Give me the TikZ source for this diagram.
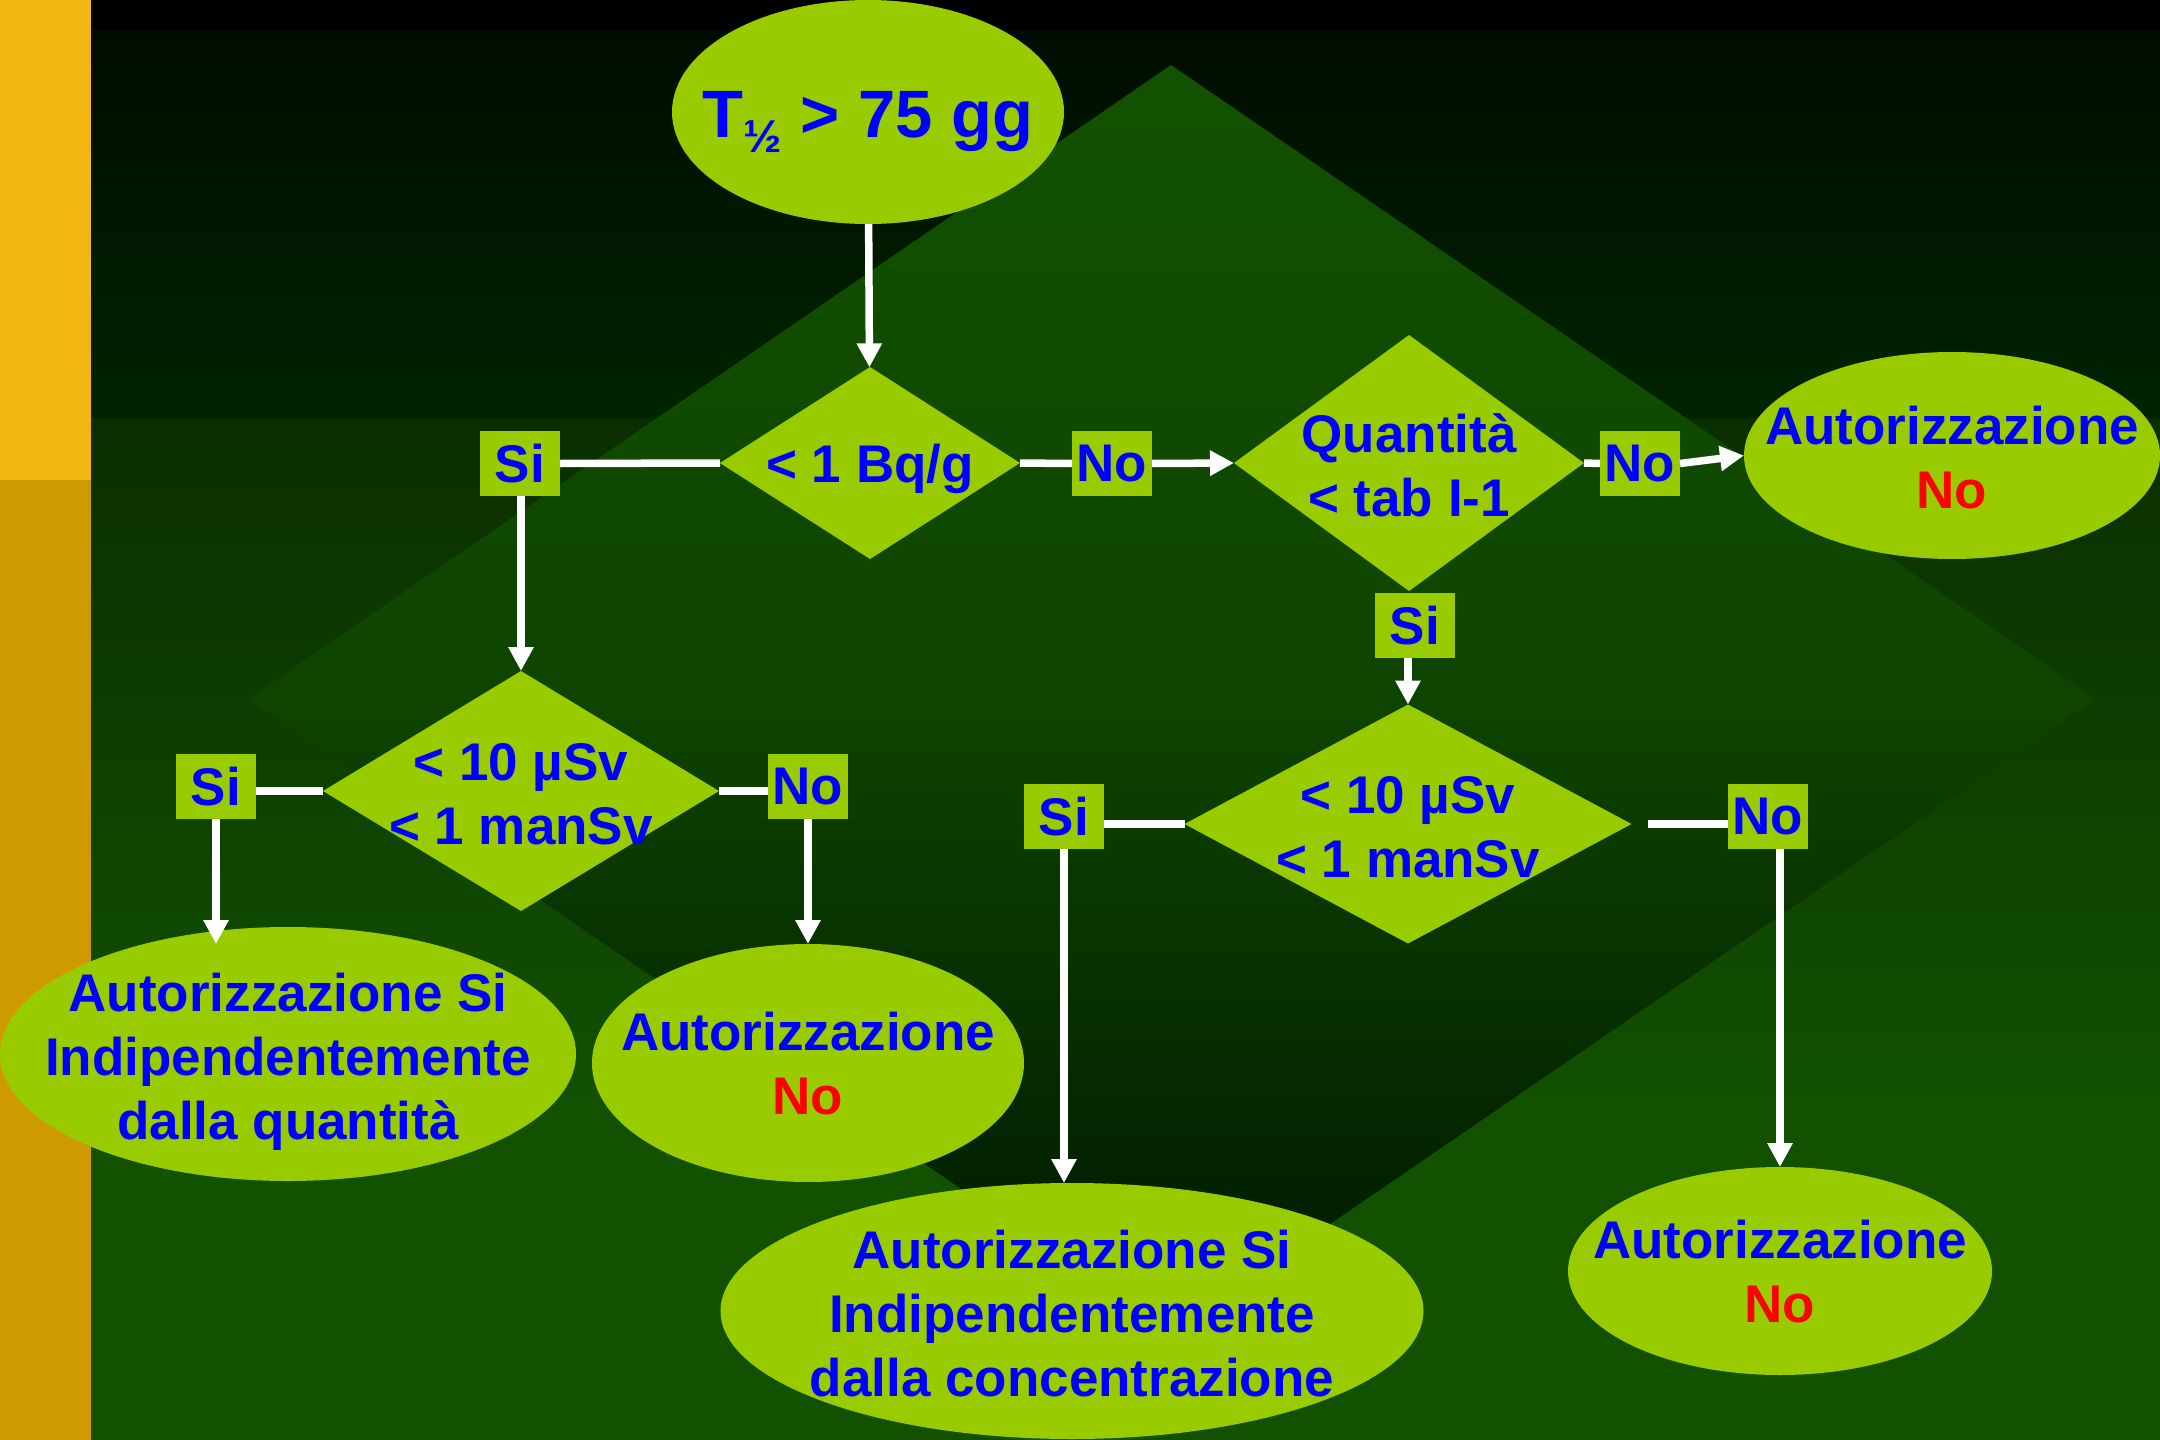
\documentclass[tikz,border=0pt]{standalone}
\usepackage{fontspec}
\setmainfont{Liberation Sans}
\usetikzlibrary{shapes.geometric, arrows.meta}
\definecolor{lgreen}{HTML}{99CC00}
\definecolor{tblue}{HTML}{0000FF}
\definecolor{tred}{HTML}{FF0000}
\definecolor{goldA}{HTML}{F2B612}
\definecolor{goldB}{HTML}{CF9A00}
\definecolor{bgA}{HTML}{000C00}
\definecolor{bgB}{HTML}{002400}
\definecolor{bgC}{HTML}{0B2E00}
\definecolor{bgD}{HTML}{115100}
\definecolor{dA}{HTML}{125200}
\definecolor{dB}{HTML}{0E4400}
\definecolor{dC}{HTML}{001800}
\newcommand{\bigtxt}{\fontsize{26.5pt}{32pt}\selectfont\bfseries}
\tikzset{
  shp/.style={fill=lgreen, draw=none, inner sep=0pt, outer sep=0pt},
  ell/.style={shp, ellipse},
  dia/.style={shp, diamond},
  lbl/.style={shp, rectangle, minimum width=40pt, minimum height=32.5pt, text=tblue, font=\bigtxt, text depth=0pt},
  txt/.style={text=tblue, font=\bigtxt, align=center, inner sep=0pt, text depth=0pt},
  ln/.style={draw=white, line width=3.75pt},
  arr/.style={ln, -{Triangle[width=12pt,length=12pt]}},
}
\begin{document}
\begin{tikzpicture}[x=0.5pt, y=-0.5pt]
\useasboundingbox (0,0) rectangle (2160,1440);
% background
\fill[black] (0,0) rectangle (2160,30);
\shade[top color=bgA, bottom color=bgB] (91,30) rectangle (2160,418);
\shade[top color=bgC, bottom color=bgD] (91,418) rectangle (2160,1100);
\fill[bgD] (91,1100) rectangle (2160,1440);
\shade[top color=dA, bottom color=dC, middle color=dB] (1171,65) -- (2096,699) -- (1171,1333) -- (248,699) -- cycle;
\fill[goldA] (0,0) rectangle (91,480);
\fill[goldB] (0,480) rectangle (91,1440);

% shapes
\node[ell, minimum width=196pt, minimum height=112pt] (E0) at (868,112) {};
\node[dia, minimum width=150pt, minimum height=96pt] (D1) at (870,463) {};
\node[dia, minimum width=175pt, minimum height=128pt] (D2) at (1409,463) {};
\node[dia, minimum width=198pt, minimum height=120pt] (D3) at (521,791) {};
\node[dia, minimum width=223.5pt, minimum height=119.5pt] (D4) at (1408,824) {};
\node[ell, minimum width=208pt, minimum height=103.5pt] (E1) at (1952,455.5) {};
\node[ell, minimum width=288pt, minimum height=127pt] (E2) at (288,1054) {};
\node[ell, minimum width=216pt, minimum height=119pt] (E3) at (808,1063) {};
\node[ell, minimum width=351.5pt, minimum height=128pt] (E4) at (1072,1311) {};
\node[ell, minimum width=212pt, minimum height=104pt] (E5) at (1780,1271) {};

% labels
\node[lbl] (SiA) at (520,463.5) {Si};
\node[lbl] (NoA) at (1112,463.5) {No};
\node[lbl] (NoB) at (1640,463.5) {No};
\node[lbl] (SiB) at (1415,625) {Si};
\node[lbl] (SiC) at (216,786) {Si};
\node[lbl] (NoC) at (808,786) {No};
\node[lbl] (SiD) at (1064,816) {Si};
\node[lbl] (NoD) at (1768,816) {No};

% texts
\node[txt, anchor=base, font=\fontsize{33.5pt}{40pt}\selectfont\bfseries] (t0) at ([yshift=-12.5pt]E0.center) {T\raisebox{-7.5pt}{\fontsize{23pt}{23pt}\selectfont ½} > 75 gg};
\node[txt] (t1) at (D1.center) {< 1 Bq/g};
\node[txt] (t2) at ([yshift=-1pt]D2.center) {Quantità\\< tab I-1};
\node[txt] (t3) at ([yshift=-1.5pt]D3.center) {< 10 µSv\\< 1 manSv};
\node[txt] (t4) at ([yshift=-1.5pt]D4.center) {< 10 µSv\\< 1 manSv};
\node[txt] (t5) at ([yshift=-1pt]E1.center) {Autorizzazione\\\textcolor{tred}{No}};
\node[txt] (t6) at ([yshift=-1pt]E2.center) {Autorizzazione Si\\Indipendentemente\\dalla quantità};
\node[txt] (t7) at (E3.center) {Autorizzazione\\\textcolor{tred}{No}};
\node[txt] (t8) at ([yshift=-1pt]E4.center) {Autorizzazione Si\\Indipendentemente\\dalla concentrazione};
\node[txt] (t9) at (E5.center) {Autorizzazione\\\textcolor{tred}{No}};

% connectors
\draw[arr] (E0) -- (D1);
\draw[ln] (D1.west) -- (SiA.east);
\draw[arr] (SiA.south -| D3.north) -- (D3.north);
\draw[ln] (D1.east) -- (NoA.west);
\draw[arr] (NoA.east) -- (D2.west);
\draw[ln] (D2.east) -- (NoB.west);
\draw[arr] (NoB.east) -- (E1.west);
\draw[arr] (SiB.south -| D4.north) -- (D4.north);
\draw[ln] (D3.west) -- (SiC.east |- D3.west);
\draw[arr] (SiC.south) -- (SiC.south |- E3.north);
\draw[ln] (D3.east) -- (NoC.west |- D3.east);
\draw[arr] (NoC.south) -- (E3.north);
\draw[ln] (D4.west) -- (SiD.east |- D4.west);
\draw[arr] (SiD.south) -- (SiD.south |- E4.north);
\draw[ln, shorten <=8pt] (D4.east) -- (NoD.west |- D4.east);
\draw[arr] (NoD.south -| E5.north) -- (E5.north);
\end{tikzpicture}
\end{document}
